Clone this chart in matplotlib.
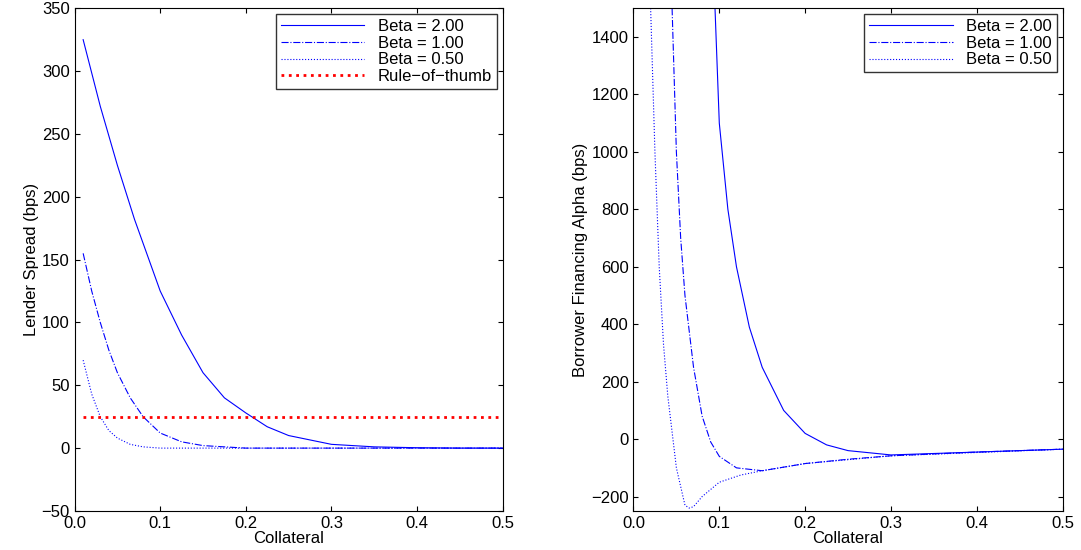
import numpy as np
import matplotlib
matplotlib.use('Agg')
import matplotlib.pyplot as plt

plt.rcParams['font.family'] = ['Liberation Sans', 'DejaVu Sans']

# left panel: lender spread (bps)
x_b2_left = [0.01, 0.03, 0.05, 0.07, 0.10, 0.125, 0.15, 0.175, 0.20, 0.225, 0.25, 0.30, 0.35, 0.40, 0.45, 0.50]
y_b2_left = [325, 272, 225, 182, 125, 90, 60, 40, 28, 17, 10, 3, 1, 0.3, 0, 0]
x_b1_left = [0.01, 0.02, 0.03, 0.04, 0.05, 0.065, 0.08, 0.10, 0.125, 0.15, 0.20, 0.30, 0.50]
y_b1_left = [155, 125, 100, 78, 60, 40, 25, 12, 5, 2, 0, 0, 0]
x_b05_left = [0.01, 0.02, 0.03, 0.04, 0.05, 0.065, 0.08, 0.10, 0.15, 0.50]
y_b05_left = [70, 43, 25, 14, 8, 3, 1, 0, 0, 0]
rule_of_thumb = 25

# right panel: borrower financing alpha (bps)
x_b2_right = [0.09, 0.095, 0.10, 0.11, 0.12, 0.135, 0.15, 0.175, 0.20, 0.225, 0.25, 0.30, 0.35, 0.40, 0.45, 0.50]
y_b2_right = [1800, 1500, 1100, 800, 600, 390, 250, 100, 20, -20, -40, -55, -50, -45, -40, -35]
x_b1_right = [0.045, 0.05, 0.055, 0.06, 0.07, 0.08, 0.09, 0.10, 0.12, 0.15, 0.20, 0.25, 0.30, 0.40, 0.50]
y_b1_right = [1500, 1000, 700, 500, 250, 80, -10, -60, -100, -110, -85, -70, -58, -45, -35]
x_b05_right = [0.02, 0.025, 0.03, 0.035, 0.04, 0.05, 0.06, 0.065, 0.07, 0.08, 0.10, 0.125, 0.15, 0.20, 0.30, 0.50]
y_b05_right = [1500, 1000, 600, 330, 150, -100, -230, -240, -235, -200, -150, -125, -110, -85, -58, -35]

fig = plt.figure(figsize=(10.81, 5.50), dpi=100)
ax1 = fig.add_axes([0.069, 0.071, 0.396, 0.914])
ax2 = fig.add_axes([0.586, 0.071, 0.397, 0.914])

ax1.plot(x_b2_left, y_b2_left, '-', color='blue', lw=0.8, label='Beta = 2.00')
ax1.plot(x_b1_left, y_b1_left, '-.', color='blue', lw=0.8, label='Beta = 1.00')
ax1.plot(x_b05_left, y_b05_left, ':', color='blue', lw=0.8, label='Beta = 0.50')
ax1.plot([0.01, 0.5], [rule_of_thumb, rule_of_thumb], ':', color='red', lw=2, label='Rule\u2212of\u2212thumb')
ax1.set_xlim(0, 0.5)
ax1.set_ylim(-50, 350)
ax1.set_xlabel('Collateral', labelpad=0)
ax1.set_ylabel('Lender Spread (bps)', labelpad=2)

ax2.plot(x_b2_right, y_b2_right, '-', color='blue', lw=0.8, label='Beta = 2.00')
ax2.plot(x_b1_right, y_b1_right, '-.', color='blue', lw=0.8, label='Beta = 1.00')
ax2.plot(x_b05_right, y_b05_right, ':', color='blue', lw=0.8, label='Beta = 0.50')
ax2.set_xlim(0, 0.5)
ax2.set_ylim(-250, 1500)
ax2.set_yticks(np.arange(-200, 1500, 200))
ax2.set_xlabel('Collateral', labelpad=0)
ax2.set_ylabel('Borrower Financing Alpha (bps)', labelpad=2)

for ax in (ax1, ax2):
    ax.tick_params(direction='in', top=True, right=True, labelsize=12)
    leg = ax.legend(loc='upper right', fancybox=False, fontsize=12, handlelength=5,
                    borderaxespad=0.35, labelspacing=0.1, borderpad=0.3)
    leg.get_frame().set_edgecolor('black')
    ax.xaxis.label.set_size(12)
    ax.yaxis.label.set_size(12)

plt.savefig('out.png')
